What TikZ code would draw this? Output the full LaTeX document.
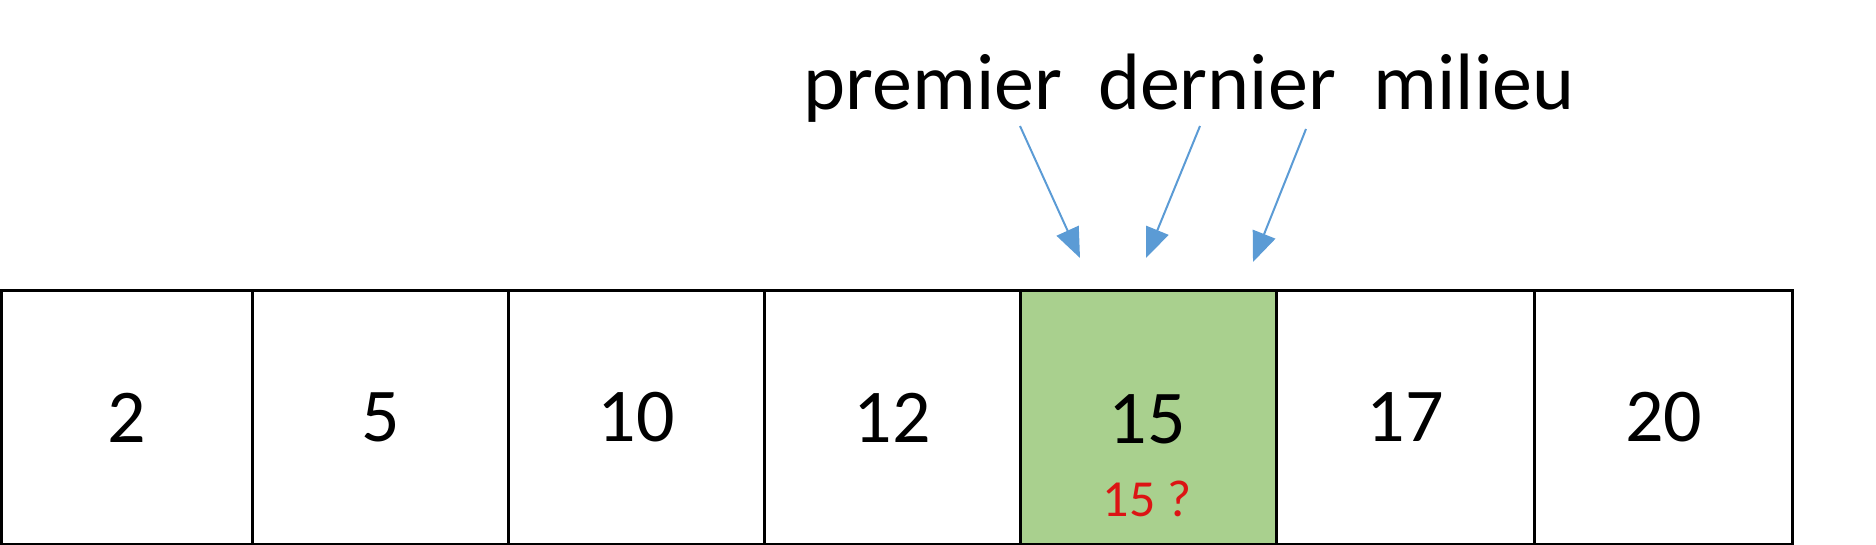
\documentclass[tikz,border=0pt]{standalone}
\usepackage{fontspec}
\setmainfont{Carlito}
\usetikzlibrary{arrows.meta}
\definecolor{cellgreen}{RGB}{169,208,142}
\definecolor{arrblue}{RGB}{91,155,213}
\definecolor{qred}{RGB}{220,20,20}
\begin{document}
\begin{tikzpicture}[x=1pt,y=-1pt,
  cell/.style={draw=black,line width=3pt,minimum width=256pt,minimum height=254pt,anchor=north west,inner sep=0pt,font=\fontsize{76}{86}\selectfont},
  lab/.style={font=\fontsize{80}{90}\selectfont,inner sep=0pt},
  ptr/.style={draw=arrblue,line width=2pt,-{Triangle[length=30pt,width=24pt]}}]
\useasboundingbox (0,0) rectangle (1876,544);
\node[cell,minimum width=251pt] (c1) at (0,289) {2};
\node[cell] (c2) at (251,289) {5};
\node[cell] (c3) at (507,289) {10};
\node[cell] (c4) at (763,289) {12};
\node[cell,fill=cellgreen] (c5) at (1019,289) {};
\node[cell,minimum width=258pt] (c6) at (1275,289) {17};
\node[cell,minimum width=258pt] (c7) at (1533,289) {20};
\node[font=\fontsize{76}{86}\selectfont] (n5) at (1147,419) {15};
\node[font=\fontsize{52}{60}\selectfont,text=qred] (q) at (1147,499) {15 ?};
\node[lab] (p) at (933,88) {premier};
\node[lab] (d) at (1217,82) {dernier};
\node[lab] (m) at (1474,82) {milieu};
\coordinate (ps) at (1020,126); \coordinate (pe) at (1080,258);
\coordinate (ds) at (1200,126); \coordinate (de) at (1146,258);
\coordinate (ms) at (1306,129); \coordinate (me) at (1253,262);
\draw[ptr] (ps) -- (pe);
\draw[ptr] (ds) -- (de);
\draw[ptr] (ms) -- (me);
\end{tikzpicture}
\end{document}
